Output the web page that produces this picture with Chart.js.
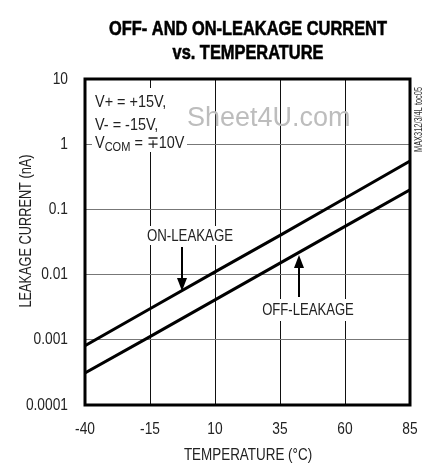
<!DOCTYPE html>
<html>
<head>
<meta charset="utf-8">
<script src="https://cdn.jsdelivr.net/npm/chart.js@4"></script>
<style>
  html, body { margin: 0; padding: 0; background: #fff; }
  canvas { display: block; }
</style>
</head>
<body>
<canvas id="myChart" width="425" height="465"></canvas>
<script>
const temps = [-40, -15, 10, 35, 60, 85];
const onLeakage = [0.00081, 0.0030, 0.011, 0.040, 0.148, 0.55];
const offLeakage = [0.00031, 0.00112, 0.0041, 0.0150, 0.055, 0.20];
const yTicks = [0.0001, 0.001, 0.01, 0.1, 1, 10];
const xTicks = [-40, -15, 10, 35, 60, 85];
const yTickLabels = ['0.0001', '0.001', '0.01', '0.1', '1', '10'];
const xTickLabels = ['-40', '-15', '10', '35', '60', '85'];

const FAMILY = '"Liberation Sans", Arial, Helvetica, sans-serif';

function pts(vals) {
  return temps.map((t, i) => ({ x: t, y: vals[i] }));
}

// narrow text: Liberation Sans squeezed sideways to look like Helvetica Condensed
function txt(c, s, x, y, o) {
  o = o || {};
  const size = o.size || 17, sx = o.sx || 0.8;
  c.save();
  c.font = (o.bold ? 'bold ' : '') + size + 'px ' + FAMILY;
  c.fillStyle = o.color || '#222';
  c.textAlign = o.align || 'left';
  c.textBaseline = o.base || 'alphabetic';
  c.translate(x, y);
  if (o.rot) c.rotate(o.rot);
  c.scale(sx, 1);
  c.fillText(s, 0, 0);
  if (o.stroke) {
    c.strokeStyle = c.fillStyle;
    c.lineWidth = o.stroke;
    c.strokeText(s, 0, 0);
  }
  const w = c.measureText(s).width * sx;
  c.restore();
  return w;
}

const annot = {
  id: 'annot',
  beforeDatasetsDraw(chart) {
    const c = chart.ctx;
    c.save();
    c.fillStyle = '#fff';
    c.fillRect(92, 88, 95, 64);    // V+ / V- / VCOM block
    c.fillRect(145, 226, 92, 19);  // ON-LEAKAGE
    c.fillRect(258, 299, 100, 22); // OFF-LEAKAGE
    c.restore();
  },
  afterDatasetsDraw(chart) {
    const c = chart.ctx;
    const a = chart.chartArea;
    c.save();
    c.strokeStyle = '#000';
    c.lineWidth = 3;
    c.strokeRect(a.left, a.top, a.right - a.left, a.bottom - a.top);
    c.restore();
  },
  afterDraw(chart) {
    const c = chart.ctx;
    const xs = chart.scales.x, ys = chart.scales.y;

    // title
    txt(c, 'OFF- AND ON-LEAKAGE CURRENT', 248, 29, { size: 20, bold: true, sx: 0.82, align: 'center', base: 'middle', color: '#000', stroke: 0.6 });
    txt(c, 'vs. TEMPERATURE', 248, 53, { size: 20, bold: true, sx: 0.82, align: 'center', base: 'middle', color: '#000', stroke: 0.6 });

    // tick labels
    yTicks.forEach((v, i) => {
      txt(c, yTickLabels[i], 68, ys.getPixelForValue(v), { align: 'right', base: 'middle', sx: 0.81 });
    });
    xTicks.forEach((v, i) => {
      txt(c, xTickLabels[i], xs.getPixelForValue(v), 429, { align: 'center', base: 'middle', sx: 0.81 });
    });

    // axis titles
    txt(c, 'TEMPERATURE (\u00B0C)', 248, 455, { align: 'center', base: 'middle', sx: 0.79 });
    txt(c, 'LEAKAGE CURRENT (nA)', 26, 231, { align: 'center', base: 'middle', sx: 0.75, rot: -Math.PI / 2 });

    // conditions
    txt(c, 'V+ = +15V,', 95, 107, { sx: 0.85 });
    txt(c, 'V- = -15V,', 95, 130, { sx: 0.85 });
    let x = 95;
    x += txt(c, 'V', x, 148, { sx: 0.85 });
    x += txt(c, 'COM', x, 151, { sx: 0.85, size: 13 });
    txt(c, ' = \u221310V', x, 148, { sx: 0.85 });

    // watermark
    txt(c, 'Sheet4U.com', 187, 126, { size: 27, sx: 1, color: '#bdbdbd' });

    // side code
    txt(c, 'MAX312/3/4L toc05', 422, 152, { size: 10, sx: 0.74, color: '#333', rot: -Math.PI / 2 });

    // curve labels
    txt(c, 'ON-LEAKAGE', 190, 236, { align: 'center', base: 'middle', sx: 0.78 });
    txt(c, 'OFF-LEAKAGE', 308, 310, { align: 'center', base: 'middle', sx: 0.77 });

    // arrows
    c.save();
    c.strokeStyle = '#000';
    c.fillStyle = '#000';
    c.lineWidth = 2;
    c.beginPath();
    c.moveTo(182, 247); c.lineTo(182, 282);
    c.stroke();
    c.beginPath();
    c.moveTo(177, 278); c.lineTo(187, 278); c.lineTo(182, 291);
    c.closePath(); c.fill();

    c.beginPath();
    c.moveTo(299, 297); c.lineTo(299, 263);
    c.stroke();
    c.beginPath();
    c.moveTo(294, 268); c.lineTo(304, 268); c.lineTo(299, 255);
    c.closePath(); c.fill();
    c.restore();
  }
};

new Chart(document.getElementById('myChart'), {
  type: 'line',
  data: {
    datasets: [{
      label: 'ON-LEAKAGE',
      data: pts(onLeakage),
      borderColor: '#000',
      borderWidth: 3,
      pointRadius: 0,
      tension: 0
    }, {
      label: 'OFF-LEAKAGE',
      data: pts(offLeakage),
      borderColor: '#000',
      borderWidth: 3,
      pointRadius: 0,
      tension: 0
    }]
  },
  options: {
    responsive: false,
    animation: false,
    devicePixelRatio: 1,
    layout: { padding: { top: 79, right: 15, left: 0, bottom: 0 } },
    plugins: {
      legend: { display: false },
      tooltip: { enabled: false }
    },
    scales: {
      x: {
        type: 'linear',
        min: -40,
        max: 85,
        afterBuildTicks: (s) => { s.ticks = xTicks.map(v => ({ value: v })); },
        afterFit: (s) => { s.height = 60; },
        grid: { color: '#111', lineWidth: 1, drawTicks: false },
        border: { display: false },
        ticks: { display: false }
      },
      y: {
        type: 'logarithmic',
        min: 0.0001,
        max: 10,
        afterBuildTicks: (s) => { s.ticks = yTicks.map(v => ({ value: v })); },
        afterFit: (s) => { s.width = 85; },
        grid: { color: '#777', lineWidth: 1, drawTicks: false },
        border: { display: false },
        ticks: { display: false }
      }
    }
  },
  plugins: [annot]
});
</script>
</body>
</html>
